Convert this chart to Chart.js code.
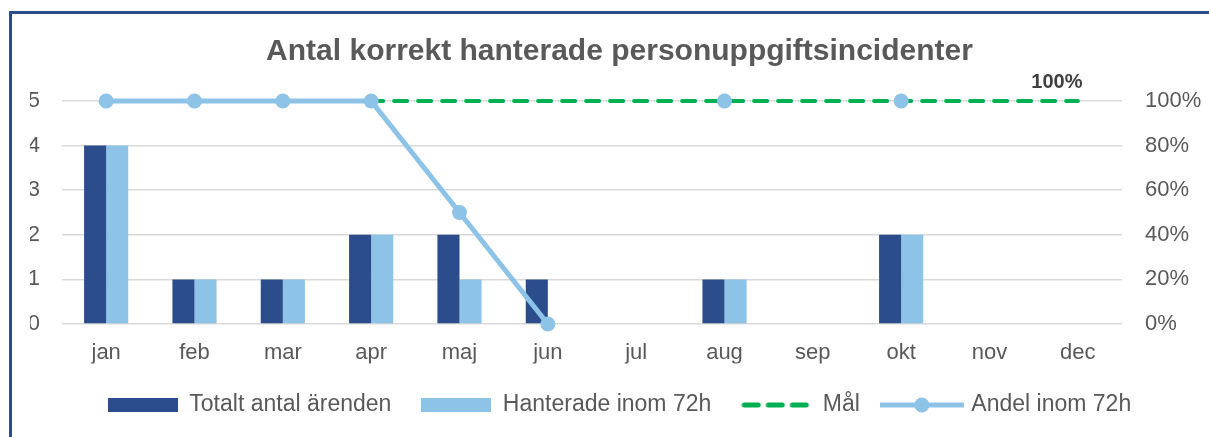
<!DOCTYPE html>
<html>
<head>
<meta charset="utf-8">
<script src="https://cdn.jsdelivr.net/npm/chart.js@4.4.1/dist/chart.umd.min.js"></script>
<style>
    html, body { margin: 0; padding: 0; background: #fff; }
    #wrap { position: absolute; left: 0; top: 0; width: 1209px; height: 437px; }
    #frame { position: absolute; left: 9px; top: 11px; right: 0; bottom: 0;
             border-left: 3px solid #2C4D8C; border-top: 3px solid #2C4D8C; pointer-events: none; }
</style>
</head>
<body>
<div id="wrap"><canvas id="chart" width="1209" height="437"></canvas></div>
<div id="frame"></div>
<script>
const months = ['jan', 'feb', 'mar', 'apr', 'maj', 'jun', 'jul', 'aug', 'sep', 'okt', 'nov', 'dec'];
const totalt = [4, 1, 1, 2, 2, 1, null, 1, null, 2, null, null];
const hanterade = [4, 1, 1, 2, 1, 0, null, 1, null, 2, null, null];
const andel = [100, 100, 100, 100, 50, 0, null, 100, null, 100, null, null];
const mal = [100, 100, 100, 100, 100, 100, 100, 100, 100, 100, 100, 100];
const malLabel = '100%';

const DARK = '#2C4D8C';
const LIGHT = '#8DC3E7';
const GREEN = '#00B050';
const TEXT = '#595959';
const FONT = "'Liberation Sans', Arial, sans-serif";

// legend swatches as small canvases
function swatch(kind) {
    const c = document.createElement('canvas');
    const g = c.getContext('2d');
    if (kind === 'dark' || kind === 'light') {
        c.width = 70; c.height = 16;
        g.fillStyle = kind === 'dark' ? DARK : LIGHT;
        g.fillRect(0, 1, 70, 14);
    } else if (kind === 'dash') {
        c.width = 70; c.height = 16;
        g.strokeStyle = GREEN;
        g.lineWidth = 5;
        g.lineCap = 'round';
        g.setLineDash([14, 10]);
        g.beginPath(); g.moveTo(3, 8); g.lineTo(66, 8); g.stroke();
    } else {
        // 90 wide, content shifted a little left so it doesn't touch the text
        c.width = 90; c.height = 16;
        g.strokeStyle = LIGHT;
        g.lineWidth = 5;
        g.beginPath(); g.moveTo(0, 8); g.lineTo(84, 8); g.stroke();
        g.fillStyle = LIGHT;
        g.beginPath(); g.arc(42, 8, 7.5, 0, Math.PI * 2); g.fill();
    }
    return c;
}

const malLabelPlugin = {
    id: 'malLabel',
    afterDatasetsDraw(chart) {
        const meta = chart.getDatasetMeta(2);
        const pt = meta.data[meta.data.length - 1];
        if (!pt) return;
        const ctx = chart.ctx;
        ctx.save();
        ctx.font = "bold 20px " + FONT;
        ctx.fillStyle = '#404040';
        ctx.textAlign = 'center';
        ctx.textBaseline = 'middle';
        ctx.fillText(malLabel, pt.x - 21, pt.y - 19);
        ctx.restore();
    }
};

Chart.defaults.font.family = FONT;
Chart.defaults.color = TEXT;

new Chart(document.getElementById('chart'), {
    type: 'bar',
    data: {
        labels: months,
        datasets: [
            { label: 'Totalt antal ärenden', data: totalt, backgroundColor: DARK,
              yAxisID: 'y', order: 2, categoryPercentage: 0.5, barPercentage: 1 },
            { label: 'Hanterade inom 72h', data: hanterade, backgroundColor: LIGHT,
              yAxisID: 'y', order: 2, categoryPercentage: 0.5, barPercentage: 1 },
            { type: 'line', label: 'Mål', data: mal, borderColor: GREEN, borderWidth: 4,
              borderDash: [13, 11], borderCapStyle: 'round', pointRadius: 0,
              yAxisID: 'y2', order: 1, clip: false },
            { type: 'line', label: 'Andel inom 72h', data: andel, borderColor: LIGHT,
              backgroundColor: LIGHT, borderWidth: 5, pointRadius: 7.5, pointBorderWidth: 0,
              pointBackgroundColor: LIGHT, yAxisID: 'y2', order: 0, clip: false }
        ]
    },
    options: {
        responsive: false,
        animation: false,
        layout: { padding: { left: 30, right: 0, top: 0, bottom: 10.5 } },
        plugins: {
            title: {
                display: true,
                text: 'Antal korrekt hanterade personuppgiftsincidenter',
                color: TEXT,
                font: { size: 30, weight: 'bold', lineHeight: 1.2 },
                padding: { top: 33.5, bottom: 31.5 }
            },
            legend: {
                position: 'bottom',
                labels: {
                    usePointStyle: true,
                    pointStyleWidth: 70,
                    padding: 30,
                    color: TEXT,
                    font: { size: 23 },
                    generateLabels: (chart) => {
                        const kinds = ['dark', 'light', 'dash', 'line'];
                        return chart.data.datasets.map((ds, i) => ({
                            text: ds.label,
                            pointStyle: swatch(kinds[i]),
                            fillStyle: 'transparent',
                            strokeStyle: 'transparent',
                            lineWidth: 0,
                            fontColor: TEXT,
                            datasetIndex: i
                        }));
                    }
                }
            },
            tooltip: { enabled: false }
        },
        scales: {
            x: {
                grid: { display: false, drawTicks: false },
                border: { display: false },
                ticks: { padding: 16, color: TEXT, font: { size: 22 } },
                afterFit: (scale) => { scale.height = 39.5; }
            },
            y: {
                position: 'left',
                min: 0, max: 5,
                ticks: { stepSize: 1, padding: 22, color: TEXT, font: { size: 22 } },
                grid: { color: '#D9D9D9', lineWidth: 1.5, drawTicks: false },
                border: { display: false },
                afterFit: (scale) => { scale.width = 32; }
            },
            y2: {
                position: 'right',
                min: 0, max: 100,
                ticks: { stepSize: 20, padding: 23, color: TEXT, font: { size: 22 },
                         callback: (v) => v + '%' },
                grid: { drawOnChartArea: false, drawTicks: false },
                border: { display: false },
                afterFit: (scale) => { scale.width = 87; }
            }
        }
    },
    plugins: [malLabelPlugin]
});
</script>
</body>
</html>
